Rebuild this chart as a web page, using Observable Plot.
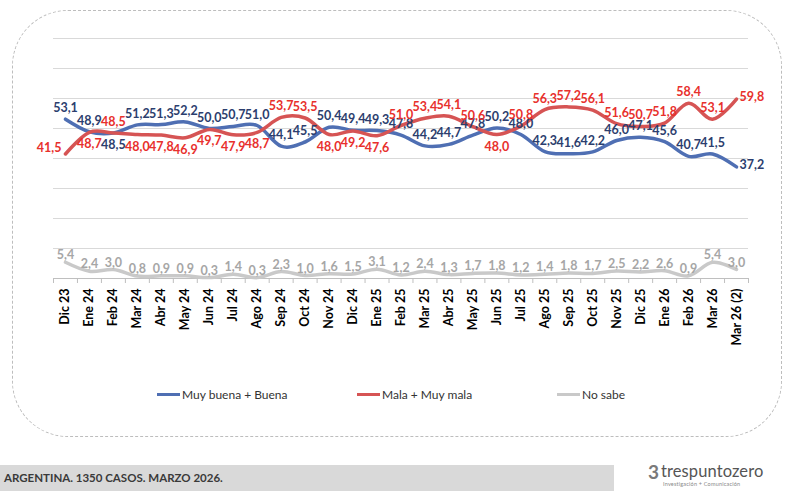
<!DOCTYPE html>
<html>
<head>
<meta charset="utf-8">
<script src="https://cdn.jsdelivr.net/npm/d3@7"></script>
<script src="https://cdn.jsdelivr.net/npm/@observablehq/plot@0.6"></script>
<style>
  html, body { margin: 0; padding: 0; background: #fff; }
  #wrap { position: relative; width: 800px; height: 491px; overflow: hidden; font-family: Lato, "Open Sans", sans-serif; }
  #box { position: absolute; left: 12px; top: 10px; width: 770px; height: 427px; border: 1px dashed #bdbdbd; border-radius: 56px; box-sizing: border-box; }
  #chart { position: absolute; left: 0; top: 0; }
  .leg { position: absolute; top: 387px; font-size: 12px; color: #333; white-space: nowrap; }
  .leg span.sw { display: inline-block; width: 23px; height: 3px; vertical-align: middle; margin-right: 2px; position: relative; top: -1px; }
  #footer { position: absolute; left: 0; top: 465px; width: 614px; height: 26px; background: #d9d9d9; }
  #footer div { position: absolute; left: 4px; top: 6px; font-size: 11.5px; font-weight: bold; color: #3a3a3a; }
  #logo { position: absolute; left: 647px; top: 460px; width: 115px; height: 30px; }
  #logo .three { position: absolute; left: 1px; top: 0; font-size: 19px; font-weight: bold; color: #7a7a7a; }
  #logo .name { position: absolute; left: 14px; top: 1px; font-size: 16.5px; color: #555; letter-spacing: 0.1px; }
  #logo .sub { position: absolute; left: 16px; top: 21px; font-size: 5.5px; color: #888; letter-spacing: 0.2px; }
</style>
</head>
<body>
<div id="wrap">
  <div id="box"></div>
  <div id="chart"></div>
  <div class="leg" style="left:157px"><span class="sw" style="background:#4f6fb3"></span>Muy buena + Buena</div>
  <div class="leg" style="left:357px"><span class="sw" style="background:#d65454"></span>Mala + Muy mala</div>
  <div class="leg" style="left:557px"><span class="sw" style="background:#c9c9c9"></span>No sabe</div>
  <div id="footer"><div>ARGENTINA. 1350 CASOS. MARZO 2026.</div></div>
  <div id="logo"><span class="three">3</span><span class="name">trespuntozero</span><span class="sub">Investigación + Comunicación</span></div>
</div>
<script>
const categories = ["Dic 23","Ene 24","Feb 24","Mar 24","Abr 24","May 24","Jun 24","Jul 24","Ago 24","Sep 24","Oct 24","Nov 24","Dic 24","Ene 25","Feb 25","Mar 25","Abr 25","May 25","Jun 25","Jul 25","Ago 25","Sep 25","Oct 25","Nov 25","Dic 25","Ene 26","Feb 26","Mar 26","Mar 26 (2)"];
const buena = [53.1,48.9,48.5,51.2,51.3,52.2,50.0,50.7,51.0,44.1,45.5,50.4,49.4,49.3,47.8,44.2,44.7,47.8,50.2,48.0,42.3,41.6,42.2,46.0,47.1,45.6,40.7,41.5,37.2];
const mala = [41.5,48.7,48.5,48.0,47.8,46.9,49.7,47.9,48.7,53.7,53.5,48.0,49.2,47.6,51.0,53.4,54.1,50.6,48.0,50.8,56.3,57.2,56.1,51.6,50.7,51.8,58.4,53.1,59.8];
const noSabe = [5.4,2.4,3.0,0.8,0.9,0.9,0.3,1.4,0.3,2.3,1.0,1.6,1.5,3.1,1.2,2.4,1.3,1.7,1.8,1.2,1.4,1.8,1.7,2.5,2.2,2.6,0.9,5.4,3.0];
const seriesNames = ["Muy buena + Buena","Mala + Muy mala","No sabe"];
const lineColors = ["#4f6fb3","#d65454","#c9c9c9"];
const labelColors = ["#2c3e6e","#e8302c","#a6a6a6"];

const n = categories.length;
const last = n - 1;
const fmt = v => v.toFixed(1).replace(".", ",");

const rows = [];
[buena, mala, noSabe].forEach((arr, s) => {
  arr.forEach((v, i) => rows.push({ i, s, series: seriesNames[s], value: v, cat: categories[i] }));
});

// label placement rule (above/below/left/right)
function place(d) {
  if (d.i === last && d.s < 2) return "right";
  if (d.s === 0) return buena[d.i] === mala[d.i] ? "below" : "above";
  if (d.s === 1) {
    if (d.i === 0) return "left";
    return mala[d.i] >= buena[d.i] ? "above" : "below";
  }
  return "above";
}
const offsets = {
  above: { dx: 0, dy: -11, textAnchor: "middle" },
  below: { dx: 0, dy: 12, textAnchor: "middle" },
  left: { dx: -4, dy: -6, textAnchor: "end" },
  right: { dx: 3, dy: -2, textAnchor: "start" }
};

const labelMarks = [];
for (let s = 0; s < 3; s++) {
  for (const p of Object.keys(offsets)) {
    const o = offsets[p];
    labelMarks.push(Plot.text(rows, {
      filter: d => d.s === s && place(d) === p,
      x: "i", y: "value", text: d => fmt(d.value),
      dx: o.dx, dy: s === 2 && p === "above" ? -7 : o.dy, textAnchor: o.textAnchor,
      fill: labelColors[s], fontWeight: "bold", fontSize: 12.5
    }));
  }
}

const chart = Plot.plot({
  width: 800, height: 360,
  marginLeft: 53, marginRight: 52, marginTop: 38, marginBottom: 82,
  x: { type: "linear", domain: [-0.5, n - 0.5], axis: null },
  y: { domain: [0, 80], axis: null },
  style: { fontFamily: "Lato, 'Open Sans', sans-serif", background: "transparent", overflow: "visible" },
  marks: [
    Plot.ruleY(d3.range(10, 81, 10), { stroke: "#d9d9d9", strokeWidth: 1 }),
    Plot.ruleY([0], { stroke: "#bfbfbf", strokeWidth: 1 }),
    Plot.axisX({ ticks: d3.range(-0.5, n, 1), tickSize: 5, tickFormat: () => "", stroke: "#bfbfbf", label: null }),
    Plot.axisX({ ticks: d3.range(n), tickSize: 0, tickPadding: 10, tickRotate: -90, label: null,
      tickFormat: i => categories[i], fontWeight: "bold", fontSize: 12.5, fill: "#000" }),
    Plot.line(rows, { filter: d => d.s === 2, x: "i", y: "value", stroke: lineColors[2], strokeWidth: 3.5, curve: "cardinal" }),
    Plot.line(rows, { filter: d => d.s === 0, x: "i", y: "value", stroke: lineColors[0], strokeWidth: 3.5, curve: "cardinal" }),
    Plot.line(rows, { filter: d => d.s === 1, x: "i", y: "value", stroke: lineColors[1], strokeWidth: 3.5, curve: "cardinal" }),
    ...labelMarks
  ]
});
document.getElementById("chart").appendChild(chart);
</script>
</body>
</html>
